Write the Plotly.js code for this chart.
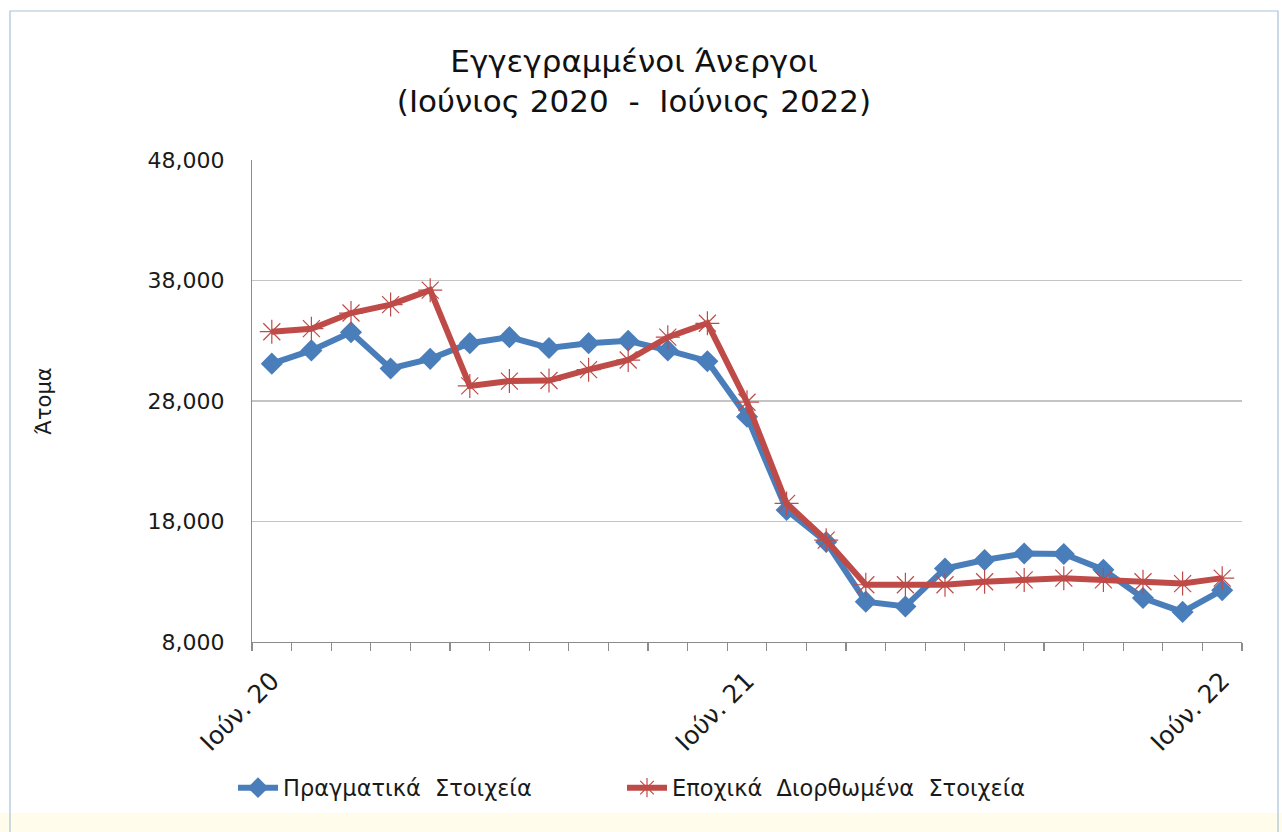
<!DOCTYPE html>
<html>
<head>
<meta charset="utf-8">
<script src="https://cdn.plot.ly/plotly-3.0.1.min.js"></script>
<style>
  html, body { margin: 0; padding: 0; background: #ffffff; }
  #chart { width: 1282px; height: 832px; }
</style>
</head>
<body>
<div id="chart"></div>
<script>
// Months: June 2020 .. June 2022 (25 monthly observations)
const months = [
  "Ιούν. 20","Ιούλ. 20","Αύγ. 20","Σεπ. 20","Οκτ. 20","Νοέ. 20","Δεκ. 20",
  "Ιαν. 21","Φεβ. 21","Μάρ. 21","Απρ. 21","Μάι. 21","Ιούν. 21","Ιούλ. 21",
  "Αύγ. 21","Σεπ. 21","Οκτ. 21","Νοέ. 21","Δεκ. 21","Ιαν. 22","Φεβ. 22",
  "Μάρ. 22","Απρ. 22","Μάι. 22","Ιούν. 22"
];
const labelledMonths = ["Ιούν. 20", "Ιούν. 21", "Ιούν. 22"];

// Πραγματικά Στοιχεία (actual data)
const actual = [
  31100, 32200, 33700, 30700, 31500, 32800, 33300, 32400, 32800, 33000, 32200, 31300,
  26700, 18950, 16300, 11350, 10950, 14100, 14800, 15350, 15300, 14000, 11650, 10500, 12300
];
// Εποχικά Διορθωμένα Στοιχεία (seasonally adjusted)
const adjusted = [
  33750, 34000, 35300, 36000, 37200, 29250, 29650, 29700, 30600, 31400, 33300, 34450,
  27900, 19500, 16450, 12750, 12750, 12750, 13000, 13150, 13300, 13150, 13000, 12850, 13300
];

const yTicks = [8000, 18000, 28000, 38000, 48000];

const idx = months.map((_, i) => i);
const labelIdx = labelledMonths.map(m => months.indexOf(m));

const traces = [
  {
    x: idx, y: actual, name: "Πραγματικά  Στοιχεία", type: "scatter", mode: "lines+markers",
    line: { color: "#4A7EBB", width: 6 },
    marker: { symbol: "diamond", size: 17, color: "#4A7EBB" },
    legend: "legend",
    hoverinfo: "skip"
  },
  {
    x: idx, y: adjusted, name: "Εποχικά  Διορθωμένα  Στοιχεία", type: "scatter", mode: "lines+markers",
    line: { color: "#BE4B48", width: 6 },
    marker: { symbol: "asterisk-open", size: 20, line: { color: "#B0504D", width: 1.2 } },
    legend: "legend2",
    hoverinfo: "skip"
  }
];

const font = "DejaVu Sans, Verdana, sans-serif";
const H = 832, PT = 160, PB = 642;
const py = (pix) => (PB - pix) / (PB - PT);       // pixel row -> paper y
const px = (pix) => (pix - 252) / 990;            // pixel col -> paper x

const legendBase = {
  orientation: "h",
  xanchor: "left",
  y: py(788), yanchor: "middle",
  font: { family: font, size: 22.5, color: "#1a1a1a" },
  itemwidth: 40,
  bgcolor: "rgba(0,0,0,0)"
};

const layout = {
  width: 1282, height: H,
  paper_bgcolor: "#ffffff", plot_bgcolor: "#ffffff",
  margin: { l: 252, r: 40, t: 160, b: 190 },
  font: { family: font, color: "#1a1a1a" },
  title: {
    text: "Εγγεγραμμένοι Άνεργοι<br>(Ιούνιος 2020  -  Ιούνιος 2022)",
    font: { family: font, size: 31, color: "#111" },
    x: 634 / 1282, xanchor: "center", xref: "container",
    y: 1 - 72 / H, yanchor: "top", yref: "container"
  },
  xaxis: {
    range: [-0.5, 24.5],
    tickmode: "array", tickvals: labelIdx, ticktext: labelledMonths,
    tickangle: -45, ticks: "", ticklen: 0, ticklabelstandoff: 13,
    tickfont: { family: font, size: 25, color: "#1a1a1a" },
    showgrid: false, zeroline: false,
    showline: true, linecolor: "#8c8c8c", linewidth: 1.2,
    minor: { ticks: "outside", tick0: -0.5, dtick: 1, ticklen: 8, tickcolor: "#8c8c8c", tickwidth: 1.2, showgrid: false },
    fixedrange: true
  },
  yaxis: {
    range: [8000, 48000],
    tickmode: "array", tickvals: yTicks,
    tickformat: ",d",
    tickfont: { family: font, size: 22, color: "#1a1a1a" },
    ticks: "", ticklabelstandoff: 22,
    showgrid: true, gridcolor: "#c4c4c4", gridwidth: 1.2,
    zeroline: false,
    showline: true, linecolor: "#8c8c8c", linewidth: 1.2,
    title: { text: "Άτομα", font: { family: font, size: 21, color: "#1a1a1a" }, standoff: 90 },
    fixedrange: true
  },
  showlegend: true,
  legend: Object.assign({}, legendBase, { x: px(233) }),
  legend2: Object.assign({}, legendBase, { x: px(622) }),
  shapes: [
    {
      type: "rect", xref: "paper", yref: "paper", layer: "below",
      x0: px(0), x1: px(1282), y0: py(860), y1: py(813),
      line: { width: 0 }, fillcolor: "#fffcec"
    },
    {
      type: "rect", xref: "paper", yref: "paper", layer: "below",
      x0: px(10), x1: px(1278), y0: py(860), y1: py(11),
      line: { color: "#a9c1d6", width: 1.2 }, fillcolor: "rgba(0,0,0,0)"
    }
  ],
  hovermode: false
};

Plotly.newPlot("chart", traces, layout, { displayModeBar: false, staticPlot: true });
</script>
</body>
</html>
